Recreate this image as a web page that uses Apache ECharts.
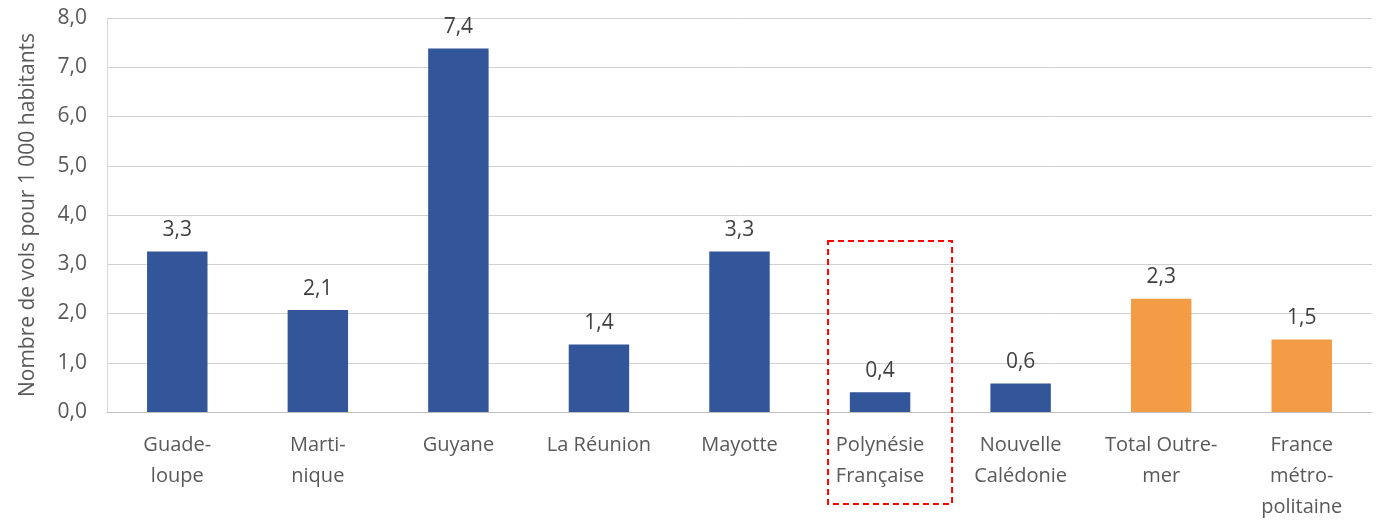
<!DOCTYPE html>
<html lang="fr">
<head>
<meta charset="UTF-8">
<title>Vols pour 1 000 habitants</title>
<script src="https://cdn.jsdelivr.net/npm/echarts@6/dist/echarts.min.js"></script>
<style>
  body { margin: 0; padding: 0; background: #fff; }
  #main { width: 1376px; height: 520px; }
</style>
</head>
<body>
<div id="main"></div>
<script>
// territoires
var categories = ['Guade-\nloupe', 'Marti-\nnique', 'Guyane', 'La Réunion', 'Mayotte',
  'Polynésie\nFrançaise', 'Nouvelle\nCalédonie', 'Total Outre-\nmer', 'France\nmétro-\npolitaine'];
// nombre de vols pour 1 000 habitants
var values = [3.26, 2.07, 7.38, 1.37, 3.26, 0.4, 0.58, 2.3, 1.47];
// les deux derniers en orange
var isTotal = [false, false, false, false, false, false, false, true, true];
var highlightIndex = 5;

var blue = '#335599';
var orange = '#f39b45';

var chart = echarts.init(document.getElementById('main'));

function fmt(v) {
  return v.toFixed(1).replace('.', ',');
}

chart.setOption({
  animation: false,
  grid: { left: 107, right: 4, top: 18, bottom: 108, outerBoundsMode: 'none' },
  xAxis: {
    type: 'category',
    data: categories,
    axisLine: { lineStyle: { color: '#bfbfbf', width: 1 } },
    axisTick: { show: false },
    axisLabel: {
      interval: 0,
      color: '#595959',
      fontFamily: 'Open Sans',
      fontSize: 20,
      lineHeight: 31,
      margin: 18
    }
  },
  yAxis: {
    type: 'value',
    min: 0,
    max: 8,
    interval: 1,
    name: 'Nombre de vols pour 1 000 habitants',
    nameLocation: 'middle',
    nameGap: 68,
    nameRotate: 90,
    nameTextStyle: { color: '#595959', fontFamily: 'Open Sans', fontSize: 21 },
    axisLine: { show: true, lineStyle: { color: '#d9d9d9' } },
    axisTick: { show: false },
    splitLine: { lineStyle: { color: '#d0d0d0' } },
    axisLabel: {
      color: '#595959',
      fontFamily: 'Open Sans',
      fontSize: 21,
      margin: 20,
      formatter: function (v) { return fmt(v); }
    }
  },
  series: [{
    type: 'bar',
    barWidth: '43%',
    data: values.map(function (v, i) {
      return { value: v, itemStyle: { color: isTotal[i] ? orange : blue } };
    }),
    label: {
      show: true,
      position: 'top',
      distance: 11,
      color: '#404040',
      fontFamily: 'Open Sans',
      fontSize: 21,
      formatter: function (p) { return fmt(p.value); }
    }
  }]
});

// cadre rouge pointillé autour de la Polynésie
var cx = chart.convertToPixel({ xAxisIndex: 0 }, highlightIndex);
var boxTop = chart.convertToPixel({ yAxisIndex: 0 }, 3.47);
chart.setOption({
  graphic: [{
    type: 'rect',
    shape: { x: cx - 52, y: boxTop, width: 124, height: 504 - boxTop },
    style: { fill: 'none', stroke: '#ff0000', lineWidth: 2, lineDash: [6, 4] },
    z: 100
  }]
});
</script>
</body>
</html>
